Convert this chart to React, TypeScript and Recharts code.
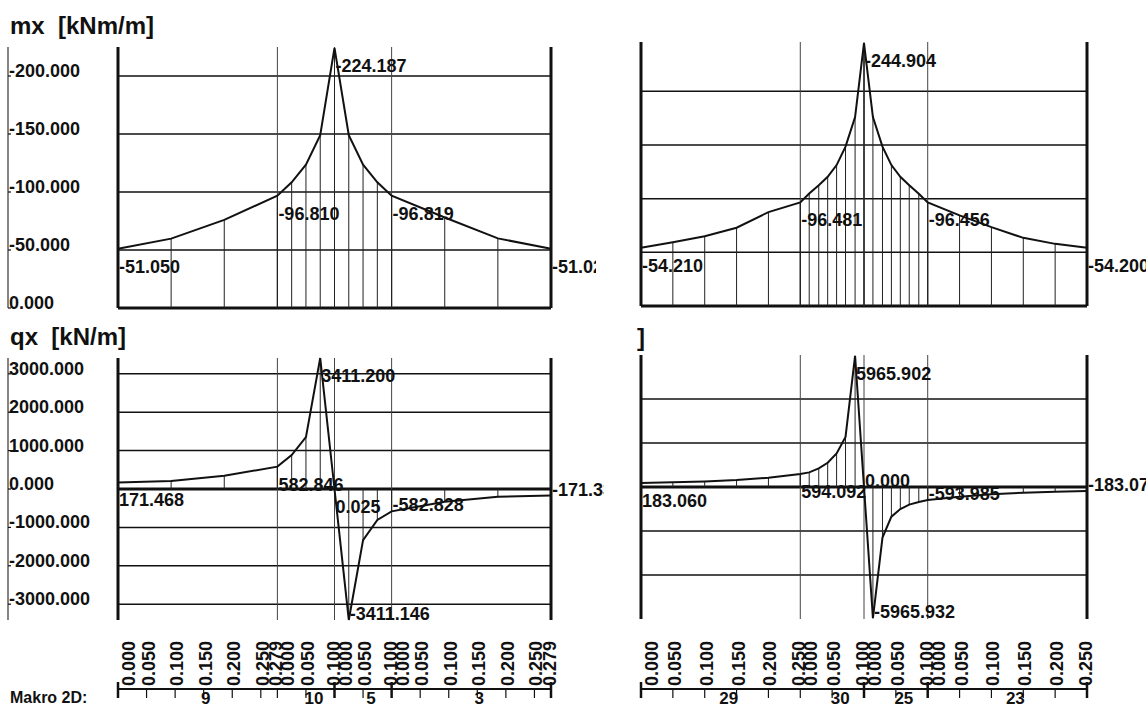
import React from 'react';
import { ComposedChart, Line, XAxis, YAxis, ReferenceLine, ReferenceDot } from 'recharts';

const FONT = '"Liberation Sans", Arial, sans-serif';
const INK = '#111';

// left diagram: elements 9 | 10 | 5 | 3
const leftElements = ['9', '10', '5', '3'];
const leftLengths = [0.279, 0.1, 0.1, 0.279];
const leftStations = [
  [0, 0.093, 0.186, 0.279],
  [0, 0.025, 0.05, 0.075, 0.1],
  [0, 0.025, 0.05, 0.075, 0.1],
  [0, 0.093, 0.186, 0.279],
];
const leftTicks = [
  [0, 0.05, 0.1, 0.15, 0.2, 0.25, 0.279],
  [0, 0.05, 0.1],
  [0, 0.05, 0.1],
  [0, 0.05, 0.1, 0.15, 0.2, 0.25, 0.279],
];
const leftMx = [
  [-51.05, -59.8, -76.0, -96.81],
  [-96.81, -108.4, -123.6, -149.0, -224.187],
  [-224.187, -149.0, -123.6, -108.4, -96.819],
  [-96.819, -78.0, -60.0, -51.028],
];
const leftQx = [
  [171.468, 210, 345, 582.846],
  [582.846, 883, 1350, 3411.2, 0.025],
  [0.025, -3411.146, -1330, -805, -582.828],
  [-582.828, -330, -200, -171.332],
];
// annotated points: [element, station]
const leftMxMarks = [[0, 0], [0, 3], [1, 4], [2, 4], [3, 3]];
const leftQxMarks = [[0, 0], [0, 3], [1, 3], [1, 4], [2, 1], [2, 4], [3, 3]];

// right diagram: elements 29 | 30 | 25 | 23
const rightElements = ['29', '30', '25', '23'];
const rightLengths = [0.25, 0.1, 0.1, 0.25];
const rightStations = [
  [0, 0.05, 0.1, 0.15, 0.2, 0.25],
  [0, 0.014, 0.029, 0.043, 0.057, 0.071, 0.086, 0.1],
  [0, 0.014, 0.029, 0.043, 0.057, 0.071, 0.086, 0.1],
  [0, 0.05, 0.1, 0.15, 0.2, 0.25],
];
const rightTicks = [
  [0, 0.05, 0.1, 0.15, 0.2, 0.25],
  [0, 0.05, 0.1],
  [0, 0.05, 0.1],
  [0, 0.05, 0.1, 0.15, 0.2, 0.25],
];
const rightMx = [
  [-54.21, -59.4, -65.0, -72.9, -87.5, -96.481],
  [-96.481, -104.8, -112.6, -120.4, -131.3, -148.5, -176.0, -244.904],
  [-244.904, -176.0, -148.5, -131.3, -120.4, -112.6, -104.5, -96.456],
  [-96.456, -84.4, -73.5, -63.5, -57.9, -54.2],
];
const rightQx = [
  [183.06, 213, 255, 320, 420, 594.092],
  [594.092, 665, 846, 1100, 1525, 2276, 5965.902, 0],
  [0, -5965.932, -2300, -1350, -1000, -800, -680, -593.985],
  [-593.985, -440, -330, -260, -215, -183.073],
];
const rightMxMarks = [[0, 0], [0, 5], [1, 7], [2, 7], [3, 5]];
const rightQxMarks = [[0, 0], [0, 5], [1, 6], [2, 0], [2, 1], [2, 7], [3, 5]];

const mxTicks = [0, -50, -100, -150, -200];
const qxLeftTicks = [3000, 2000, 1000, 0, -1000, -2000, -3000];
const qxRightGrid = [4000, 2000, 0, -2000, -4000];
const majorBoundaries = [0, 2, 3, 4];

const fmt = (v: number) => v.toFixed(3);

const cumulative = (lengths: number[]) => {
  const out = [0];
  lengths.forEach((l) => out.push(out[out.length - 1] + l));
  return out;
};

const toPoints = (lengths: number[], stations: number[][], values: number[][]) => {
  const bounds = cumulative(lengths);
  const pts: { x: number; v: number }[] = [];
  lengths.forEach((_, e) => {
    stations[e].forEach((s, i) => pts.push({ x: bounds[e] + s, v: values[e][i] }));
  });
  return pts;
};

const textStyle = { fontFamily: FONT, fontWeight: 'bold' as const, fontSize: 18, fill: INK };

const YTick = (tp: any) => (
  <g>
    <line x1={8} x2={11} y1={tp.y} y2={tp.y} stroke={INK} strokeWidth={1.2} />
    <text x={9} y={tp.y + 1} {...textStyle}>{fmt(tp.payload.value)}</text>
  </g>
);

const AxisRule = (lp: any) => {
  const vb = lp.viewBox || {};
  return <line x1={8} x2={8} y1={vb.y} y2={vb.y + vb.height} stroke="#333" strokeWidth={1.2} />;
};

interface PanelProps {
  width: number;
  height: number;
  margin: { top: number; right: number; bottom: number; left: number };
  lengths: number[];
  stations: number[][];
  values: number[][];
  marks: number[][];
  domain: [number, number];
  grid: number[];
  reversed?: boolean;
  yLabels?: boolean;
}

const Panel: React.FC<PanelProps> = ({ width, height, margin, lengths, stations, values, marks, domain, grid, reversed, yLabels }) => {
  const data = toPoints(lengths, stations, values);
  const bounds = cumulative(lengths);
  const total = bounds[bounds.length - 1];
  const markPts = marks.map(([e, i]) => ({ x: bounds[e] + stations[e][i], v: values[e][i] }));

  return (
    <ComposedChart width={width} height={height} margin={margin} data={data}>
      <XAxis type="number" dataKey="x" domain={[0, total]} hide />
      <YAxis
        type="number"
        domain={domain}
        reversed={reversed}
        ticks={grid}
        interval={0}
        hide={!yLabels}
        width={118}
        axisLine={false}
        tickLine={false}
        tick={YTick}
        label={AxisRule}
      />
      {grid.map((t) => (
        <ReferenceLine key={`g${t}`} y={t} stroke={INK} strokeWidth={t === 0 ? 3 : 1.5} />
      ))}
      {bounds.slice(1, -1).map((b) => (
        <ReferenceLine key={`b${b}`} x={b} stroke="#444" strokeWidth={1} />
      ))}
      {data.map((p, k) => (
        <ReferenceLine key={`h${k}`} segment={[{ x: p.x, y: 0 }, { x: p.x, y: p.v }]} stroke="#222" strokeWidth={1} />
      ))}
      <ReferenceLine x={0} stroke={INK} strokeWidth={3} />
      <ReferenceLine x={total} stroke={INK} strokeWidth={3} />
      <Line dataKey="v" type="linear" stroke={INK} strokeWidth={2} dot={false} isAnimationActive={false} />
      {markPts.map((p, k) => {
        const below = reversed ? p.v < 0 : p.v > 0;
        return (
          <ReferenceDot
            key={`m${k}`}
            x={p.x}
            y={p.v}
            r={0}
            ifOverflow="visible"
            label={(lp: any) => (
              <text x={lp.viewBox.x + 1} y={lp.viewBox.y + (below ? 24 : 0)} {...textStyle}>
                {fmt(p.v)}
              </text>
            )}
          />
        );
      })}
    </ComposedChart>
  );
};

interface TickInfo {
  x: number;
  major: boolean;
  labels: { text: string; kind: string }[];
  element?: { name: string; half: number };
}

const buildTicks = (lengths: number[], ticks: number[][], elements: string[]) => {
  const bounds = cumulative(lengths);
  const out: TickInfo[] = [];
  lengths.forEach((len, e) => {
    ticks[e].forEach((t, i) => {
      const x = +(bounds[e] + t).toFixed(6);
      const kind = i === 0 ? 'start' : i === ticks[e].length - 1 ? 'end' : 'mid';
      let entry = out.find((o) => Math.abs(o.x - x) < 1e-6);
      if (!entry) {
        entry = { x, major: false, labels: [] };
        out.push(entry);
      }
      entry.labels.push({ text: fmt(t), kind });
      if (i === 0) entry.element = { name: elements[e], half: len / 2 };
    });
  });
  majorBoundaries.forEach((bi) => {
    const hit = out.find((o) => Math.abs(o.x - bounds[bi]) < 1e-6);
    if (hit) hit.major = true;
  });
  return out;
};

const ROW_H = 77;
const AXIS_H = 18;

interface AxisRowProps {
  width: number;
  left: number;
  right: number;
  lengths: number[];
  ticks: number[][];
  elements: string[];
}

const AxisRow: React.FC<AxisRowProps> = ({ width, left, right, lengths, ticks, elements }) => {
  const bounds = cumulative(lengths);
  const total = bounds[bounds.length - 1];
  const info = buildTicks(lengths, ticks, elements);
  const lineY = ROW_H - AXIS_H;
  const pxPerUnit = (width - left - right) / total;

  const XTick = (tp: any) => {
    const o = info.find((t) => Math.abs(t.x - tp.payload.value) < 1e-6);
    if (!o) return <g />;
    const x = tp.x;
    return (
      <g>
        <line x1={x} x2={x} y1={o.major ? lineY - 7 : lineY} y2={lineY + 9} stroke={INK} strokeWidth={o.major ? 2.5 : 1.2} />
        {o.labels.map((l, k) => {
          const bx = x + (l.kind === 'start' ? 17 : l.kind === 'end' ? 5 : 8);
          return (
            <text key={k} transform={`translate(${bx},${lineY - 3}) rotate(-90)`} {...textStyle}>
              {l.text}
            </text>
          );
        })}
        {o.element && (
          <text x={x + o.element.half * pxPerUnit + 8} y={lineY + 15} textAnchor="middle" {...textStyle} fontSize={17}>
            {o.element.name}
          </text>
        )}
      </g>
    );
  };

  return (
    <ComposedChart width={width} height={ROW_H} margin={{ top: 0, right, bottom: 0, left }} data={info}>
      <XAxis
        type="number"
        dataKey="x"
        domain={[0, total]}
        ticks={info.map((o) => o.x)}
        interval={0}
        height={AXIS_H}
        axisLine={{ stroke: INK, strokeWidth: 2 }}
        tickLine={false}
        tick={XTick}
      />
      <YAxis hide domain={[0, 1]} />
    </ComposedChart>
  );
};

const abs = (left: number, top: number): React.CSSProperties => ({ position: 'absolute', left, top });

export default function App() {
  return (
    <div style={{ position: 'absolute', left: 0, top: 0, width: 1146, height: 707, background: '#fff', overflow: 'hidden' }}>
      <div style={abs(0, 0)}>
        <Panel width={596} height={320} margin={{ top: 47, right: 45, bottom: 12, left: 0 }}
          lengths={leftLengths} stations={leftStations} values={leftMx} marks={leftMxMarks}
          domain={[-225, 0]} grid={mxTicks} reversed yLabels />
      </div>
      <div style={abs(596, 0)}>
        <Panel width={550} height={320} margin={{ top: 42, right: 59, bottom: 14, left: 45 }}
          lengths={rightLengths} stations={rightStations} values={rightMx} marks={rightMxMarks}
          domain={[-246, 0]} grid={mxTicks} reversed />
      </div>
      <div style={abs(0, 320)}>
        <Panel width={604} height={310} margin={{ top: 38, right: 53, bottom: 10, left: 0 }}
          lengths={leftLengths} stations={leftStations} values={leftQx} marks={leftQxMarks}
          domain={[-3412, 3412]} grid={qxLeftTicks} yLabels />
      </div>
      <div style={abs(604, 320)}>
        <Panel width={542} height={310} margin={{ top: 35, right: 59, bottom: 11, left: 37 }}
          lengths={rightLengths} stations={rightStations} values={rightQx} marks={rightQxMarks}
          domain={[-6000, 6000]} grid={qxRightGrid} />
      </div>
      <div style={abs(0, 630)}>
        <AxisRow width={590} left={118} right={39} lengths={leftLengths} ticks={leftTicks} elements={leftElements} />
      </div>
      <div style={abs(590, 630)}>
        <AxisRow width={556} left={51} right={59} lengths={rightLengths} ticks={rightTicks} elements={rightElements} />
      </div>
      <svg width={1146} height={707} style={{ position: 'absolute', left: 0, top: 0, pointerEvents: 'none' }}>
        <text x={10} y={34} style={{ whiteSpace: 'pre' }} fontFamily={FONT} fontWeight="bold" fontSize={24} fill={INK}>mx  [kNm/m]</text>
        <text x={10} y={345} style={{ whiteSpace: 'pre' }} fontFamily={FONT} fontWeight="bold" fontSize={24} fill={INK}>qx  [kN/m]</text>
        <text x={637} y={346} fontFamily={FONT} fontWeight="bold" fontSize={24} fill={INK}>]</text>
        <text x={10} y={703} fontFamily={FONT} fontWeight="bold" fontSize={16} fill={INK}>Makro 2D:</text>
      </svg>
    </div>
  );
}
